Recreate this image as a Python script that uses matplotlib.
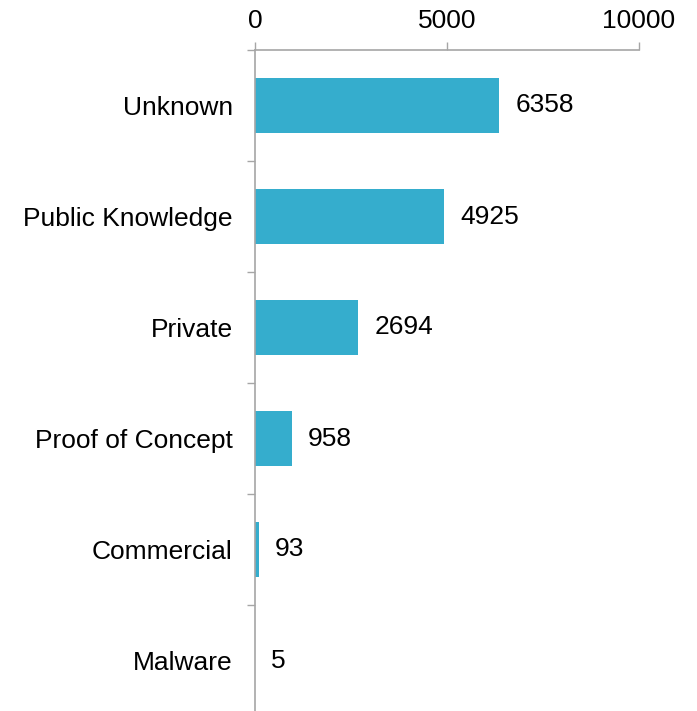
import matplotlib
matplotlib.use("Agg")
import matplotlib.pyplot as plt
import numpy as np

categories = ["Unknown", "Public Knowledge", "Private", "Proof of Concept", "Commercial", "Malware"]
counts = [6358, 4925, 2694, 958, 93, 5]
x_ticks = [0, 5000, 10000]

plt.rcParams["font.family"] = ["Liberation Sans", "DejaVu Sans"]

W, H = 697, 711
fig = plt.figure(figsize=(W / 100, H / 100), dpi=100)
left, right = 255 / W, 639 / W
top, bottom = (H - 50) / H, (H - 716) / H
ax = fig.add_axes([left, bottom, right - left, top - bottom])

bar_color = "#35adcd"
axis_color = "#a6a6a6"
fs = 19
pos = np.arange(len(categories))
ax.barh(pos, counts, height=0.5, color=bar_color)

for p, v in zip(pos, counts):
    ax.annotate(str(v), (v, p), xytext=(16, 0), textcoords="offset pixels",
                ha="left", va="center", fontsize=fs, color="black")

ax.set_xlim(0, 10000)
ax.set_ylim(len(categories) - 0.5, -0.5)
ax.xaxis.tick_top()
ax.set_xticks(x_ticks)
ax.set_xticklabels([str(t) for t in x_ticks])
ax.set_yticks(pos)
ax.set_yticklabels(categories)
ax.set_yticks(np.arange(len(categories) + 1) - 0.5, minor=True)

ax.tick_params(axis="x", which="major", direction="out", length=6, width=1,
               color=axis_color, labelsize=fs, pad=6)
ax.tick_params(axis="y", which="major", length=0, labelsize=fs, pad=16)
ax.tick_params(axis="y", which="minor", direction="out", length=6, width=1,
               color=axis_color)

for side in ("right", "bottom"):
    ax.spines[side].set_visible(False)
for side in ("left", "top"):
    ax.spines[side].set_color(axis_color)
    ax.spines[side].set_linewidth(1.2)

fig.savefig("out.png", dpi=100, facecolor="white")
